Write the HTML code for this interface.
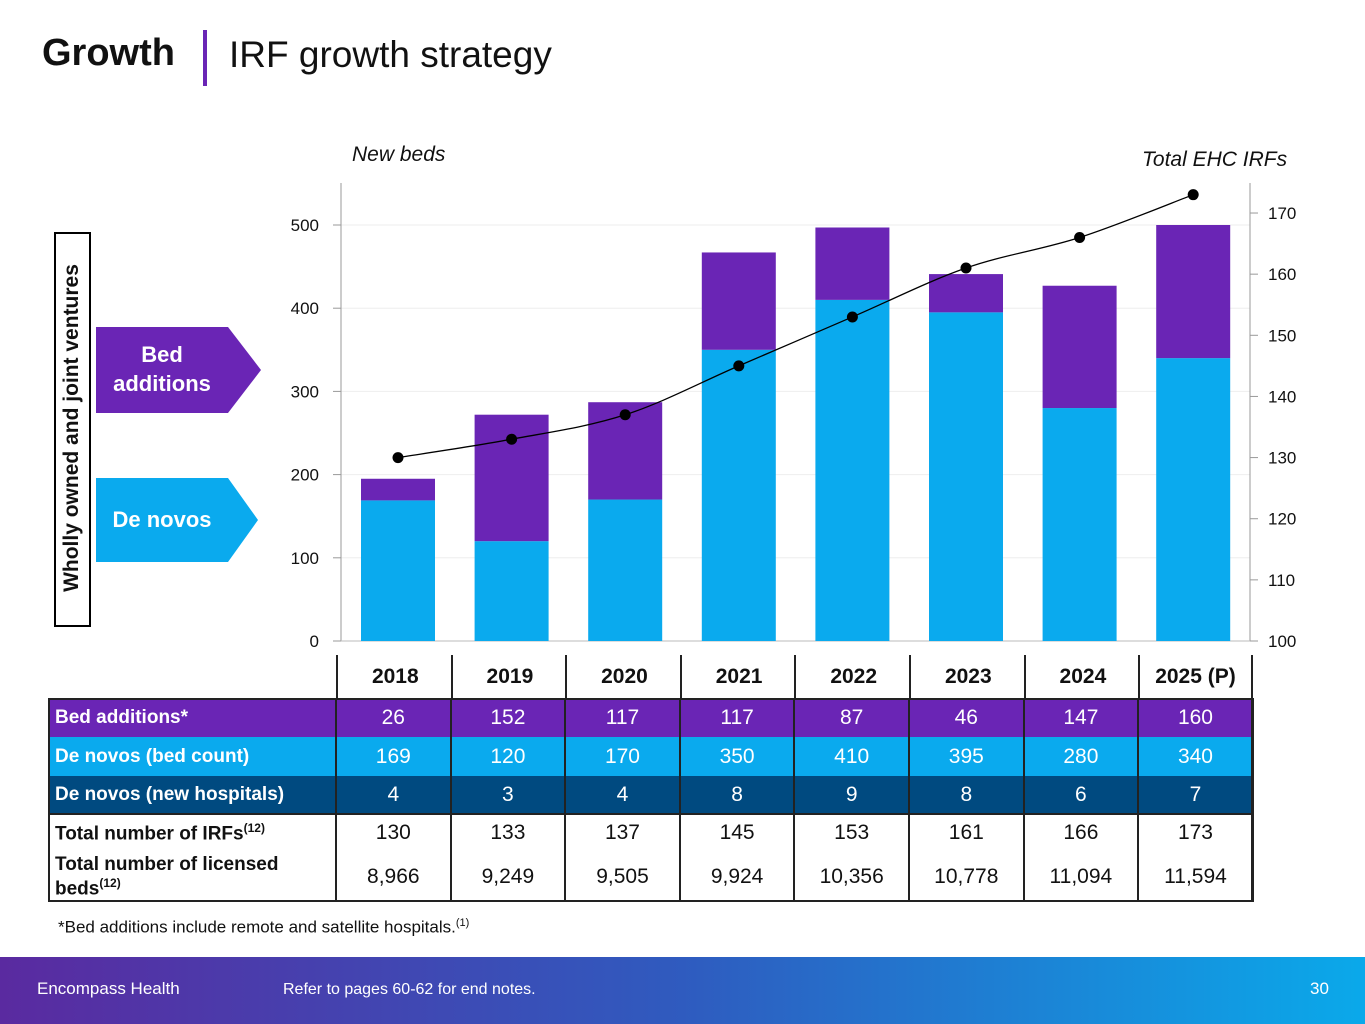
<!DOCTYPE html>
<html><head><meta charset="utf-8"><style>
body{margin:0;width:1365px;height:1024px;position:relative;background:#fff;font-family:"Liberation Sans","DejaVu Sans",sans-serif;overflow:hidden}
.abs{position:absolute}
</style></head><body>
<div class="abs" style="left:42px;top:32px;font-size:38px;font-weight:bold;color:#111">Growth</div>
<div class="abs" style="left:203px;top:30px;width:4px;height:56px;background:#6a25b5"></div>
<div class="abs" style="left:229px;top:34px;font-size:37px;color:#111">IRF growth strategy</div>

<div class="abs" style="left:54px;top:232px;width:33px;height:391px;border:2px solid #000"></div>
<div class="abs" style="left:72px;top:428px;transform:translate(-50%,-50%) rotate(-90deg);white-space:nowrap;font-size:21px;font-weight:bold;color:#111">Wholly owned and joint ventures</div>

<svg class="abs" style="left:0;top:0" width="1365" height="1024">
<polygon points="96,327 228,327 261,370 228,413 96,413" fill="#6a25b5"/>
<text x="162" y="362" text-anchor="middle" font-size="22" font-weight="bold" fill="#fff" font-family="Liberation Sans">Bed</text>
<text x="162" y="391" text-anchor="middle" font-size="22" font-weight="bold" fill="#fff" font-family="Liberation Sans">additions</text>
<polygon points="96,478 228,478 258,520 228,562 96,562" fill="#0aaaee"/>
<text x="162" y="527" text-anchor="middle" font-size="22" font-weight="bold" fill="#fff" font-family="Liberation Sans">De novos</text>
<g id="chart"></g>
</svg>

<div class="abs" style="left:352px;top:143px;font-size:21px;font-style:italic;color:#111">New beds</div>
<div class="abs" style="left:1142px;top:148px;font-size:21px;font-style:italic;color:#111">Total EHC IRFs</div>

<div id="tbl"></div>

<div class="abs" style="left:58px;top:917px;font-size:17px;color:#111">*Bed additions include remote and satellite hospitals.<sup style="font-size:11px">(1)</sup></div>

<div class="abs" style="left:0;top:957px;width:1365px;height:67px;background:linear-gradient(90deg,#5a2aa0,#2f5bbf 50%,#0aa9ea)"></div>
<div class="abs" style="left:37px;top:979px;font-size:17px;color:#fff">Encompass Health</div>
<div class="abs" style="left:283px;top:981px;font-size:16px;color:#fff">Refer to pages 60-62 for end notes.</div>
<div class="abs" style="left:1310px;top:979px;font-size:17px;color:#fff">30</div>

<script>
const years=["2018","2019","2020","2021","2022","2023","2024","2025 (P)"];
const bedAdditions=[26,152,117,117,87,46,147,160];
const deNovoBeds=[169,120,170,350,410,395,280,340];
const deNovoHospitals=[4,3,4,8,9,8,6,7];
const totalIRFs=[130,133,137,145,153,161,166,173];
const licensedBeds=["8,966","9,249","9,505","9,924","10,356","10,778","11,094","11,594"];
const leftTicks=[0,100,200,300,400,500];
const rightTicks=[100,110,120,130,140,150,160,170];

const NS="http://www.w3.org/2000/svg";
const g=document.getElementById('chart');
const yL=v=>641-v*0.832;
const yR=v=>641-(v-100)*6.114;
const xC=i=>398+i*113.6;
const BW=74;
function mk(t,a){const e=document.createElementNS(NS,t);for(const k in a)e.setAttribute(k,a[k]);g.appendChild(e);return e;}
leftTicks.forEach(v=>{
 const l=mk('line',{x1:341,x2:1250,y1:yL(v),y2:yL(v),stroke:'#eee','stroke-width':1});
 
 
 mk('line',{x1:333,x2:341,y1:yL(v),y2:yL(v),stroke:'#999'});
 const t=mk('text',{x:319,y:yL(v)+6,'text-anchor':'end','font-size':17,fill:'#111'});t.textContent=v;
 
 
});
rightTicks.forEach(v=>{
 mk('line',{x1:1250,x2:1258,y1:yR(v),y2:yR(v),stroke:'#999'});
 const t=mk('text',{x:1268,y:yR(v)+6,'font-size':17,fill:'#111'});t.textContent=v;
 
 
});
mk('line',{x1:341,x2:341,y1:183,y2:641,stroke:'#999'});
mk('line',{x1:1250,x2:1250,y1:183,y2:641,stroke:'#999'});
mk('line',{x1:341,x2:1250,y1:641,y2:641,stroke:'#bbb'});
years.forEach((y,i)=>{
 const b1=mk('rect',{x:xC(i)-BW/2,y:yL(deNovoBeds[i]),width:BW,height:deNovoBeds[i]*0.832,fill:'#0aaaee'});
 
 
 const b2=mk('rect',{x:xC(i)-BW/2,y:yL(deNovoBeds[i]+bedAdditions[i]),width:BW,height:bedAdditions[i]*0.832,fill:'#6a25b5'});
 
 
});
const pts=totalIRFs.map((v,i)=>[xC(i),yR(v)]);
let d='M'+pts[0][0]+','+pts[0][1];
for(let i=0;i<pts.length-1;i++){
 const p0=pts[Math.max(0,i-1)],p1=pts[i],p2=pts[i+1],p3=pts[Math.min(pts.length-1,i+2)];
 const c1=[p1[0]+(p2[0]-p0[0])/6,p1[1]+(p2[1]-p0[1])/6],c2=[p2[0]-(p3[0]-p1[0])/6,p2[1]-(p3[1]-p1[1])/6];
 d+=` C${c1} ${c2} ${p2}`;
}
const ln=mk('path',{d:d,fill:'none',stroke:'#000','stroke-width':1.3});


pts.forEach(p=>{const c=mk('circle',{cx:p[0],cy:p[1],r:5.5,fill:'#000'});
 
 });

// table
const T=document.getElementById('tbl');
const colX=i=>336+i*114.6;
function cell(x,y,w,h,txt,st,name){const d=document.createElement('div');d.className='abs';
 d.style.cssText=`left:${x}px;top:${y}px;width:${w}px;height:${h}px;display:flex;align-items:center;${st}`;
 d.innerHTML='<span>'+txt+'</span>';
 T.appendChild(d);}
years.forEach((y,i)=>cell(colX(i),655,114.6,43,y,'justify-content:center;font-size:21px;font-weight:bold;color:#111;border-left:2px solid #222;'+(i==7?'border-right:2px solid #222;box-sizing:border-box;':''),'year-header'));
const rows=[
 ['Bed additions*',bedAdditions,698,39,'#6a25b5','#fff'],
 ['De novos (bed count)',deNovoBeds,737,39,'#0aaaee','#fff'],
 ['De novos (new hospitals)',deNovoHospitals,776,38,'#004a80','#fff'],
 ['Total number of IRFs<sup style="font-size:12px">(12)</sup>',totalIRFs,814,38,'#fff','#111'],
 ['Total number of licensed<br>beds<sup style="font-size:12px">(12)</sup>',licensedBeds,852,50,'#fff','#111']];
rows.forEach((r,ri)=>{
 cell(48,r[2],288,r[3],r[0],`background:${r[4]};color:${r[5]};font-size:19px;font-weight:bold;padding-left:7px;box-sizing:border-box;line-height:${ri==4?'18px':'normal'}`,'row-label');
 r[1].forEach((v,i)=>cell(colX(i),r[2],114.6,r[3],v,`justify-content:center;background:${r[4]};color:${r[5]};font-size:21px;`,'table-cell'));
});
const box=document.createElement('div');box.className='abs';
box.style.cssText='left:48px;top:698px;width:1205px;height:204px;border:2px solid #222;box-sizing:border-box';

T.appendChild(box);
const hl=document.createElement('div');hl.className='abs';
hl.style.cssText='left:48px;top:813px;width:1205px;height:2px;background:#222';

T.appendChild(hl);
for(let i=0;i<=8;i++){const v=document.createElement('div');v.className='abs';
 v.style.cssText=`left:${colX(i)-1}px;top:698px;width:2px;height:204px;background:#222`;
 
 T.appendChild(v);}
</script>
</body></html>
